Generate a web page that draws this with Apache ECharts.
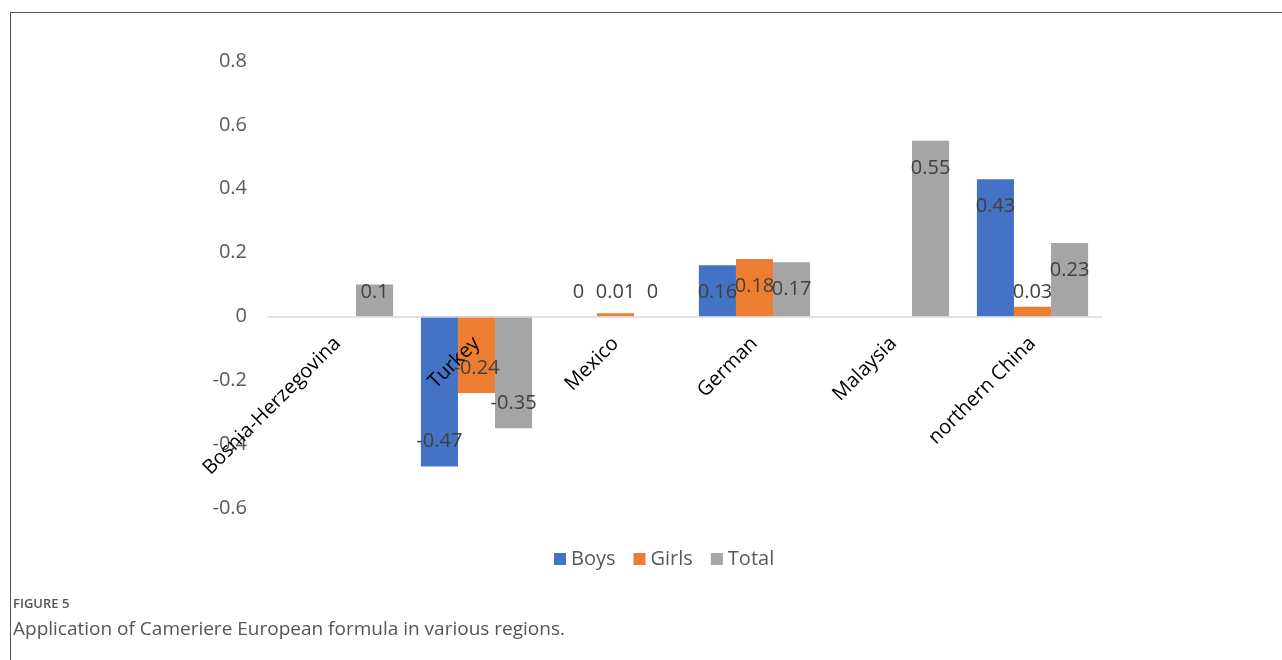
<!DOCTYPE html>
<html>
<head>
<meta charset="utf-8">
<script src="https://cdn.jsdelivr.net/npm/echarts@6/dist/echarts.min.js"></script>
<style>
html,body{margin:0;padding:0;background:#fff;}
#chart{width:1282px;height:660px;}
</style>
</head>
<body>
<div id="chart"></div>
<script>
const categories = ['Bosnia-Herzegovina', 'Turkey', 'Mexico', 'German', 'Malaysia', 'northern China'];
const boys  = [null, -0.47, 0, 0.16, null, 0.43];
const girls = [null, -0.24, 0.01, 0.18, null, 0.03];
const total = [0.1, -0.35, 0, 0.17, 0.55, 0.23];
const yTicks = { min: -0.6, max: 0.8, interval: 0.2 };

const GRID = { left: 268, right: 180, top: 61, bottom: 152, outerBoundsMode: 'none', containLabel: false };
const plotH = 660 - GRID.top - GRID.bottom;
const pxPerUnit = plotH / (yTicks.max - yTicks.min);
const zeroFromBottom = (0 - yTicks.min) * pxPerUnit;

function labelFor(v) {
  if (v === null) return {};
  const h = Math.abs(v) * pxPerUnit;
  if (v >= 0) {
    const off = Math.min(27, h - 24);
    return { position: 'insideTop', distance: off - 10 };
  }
  const off = Math.min(25, h - 24);
  return { position: 'insideBottom', distance: off - 10 };
}
function mk(arr) {
  return arr.map(v => v === null ? '-' : { value: v, label: labelFor(v) });
}

const colors = ['#4472C4', '#ED7D31', '#A5A5A5'];
const FONT = '"Open Sans", "Noto Sans", sans-serif';
const baseLabel = { show: true, color: '#404040', fontSize: 20, lineHeight: 20, fontFamily: FONT };

const chart = echarts.init(document.getElementById('chart'));
chart.setOption({
  animation: false,
  color: colors,
  grid: GRID,
  legend: {
    data: ['Boys', 'Girls', 'Total'],
    top: 544, left: 549,
    icon: 'rect', itemWidth: 12, itemHeight: 12, itemGap: 18,
    textStyle: { fontSize: 20, color: '#595959', fontFamily: FONT }
  },
  xAxis: {
    type: 'category', data: categories, z: 10,
    axisTick: { show: false },
    axisLine: { onZero: true, lineStyle: { color: '#d9d9d9', width: 1.5 } },
    axisLabel: { interval: 0, rotate: 45, hideOverlap: false, color: '#000', fontSize: 20, fontFamily: FONT, margin: 24 - zeroFromBottom }
  },
  yAxis: {
    type: 'value', min: yTicks.min, max: yTicks.max, interval: yTicks.interval,
    splitLine: { show: false }, axisLine: { show: false }, axisTick: { show: false },
    axisLabel: { color: '#595959', fontSize: 20, fontFamily: FONT, margin: 21 }
  },
  series: [
    { name: 'Boys', type: 'bar', data: mk(boys), barGap: '0%', barCategoryGap: '20%', label: baseLabel },
    { name: 'Girls', type: 'bar', data: mk(girls), barGap: '0%', barCategoryGap: '20%', label: baseLabel },
    { name: 'Total', type: 'bar', data: mk(total), barGap: '0%', barCategoryGap: '20%', label: baseLabel }
  ],
  graphic: [
    { type: 'line', shape: { x1: 10, y1: 12.5, x2: 1282, y2: 12.5 }, style: { stroke: '#555', lineWidth: 1 } },
    { type: 'line', shape: { x1: 10.5, y1: 12, x2: 10.5, y2: 660 }, style: { stroke: '#555', lineWidth: 1 } },
    { type: 'text', left: 13, top: 598, style: { text: 'FIGURE 5', fontSize: 13, fontWeight: 600, fill: '#555', fontFamily: FONT } },
    { type: 'text', left: 13, top: 620, style: { text: 'Application of Cameriere European formula in various regions.', fontSize: 19, fill: '#555', fontFamily: FONT } }
  ]
});
</script>
</body>
</html>
